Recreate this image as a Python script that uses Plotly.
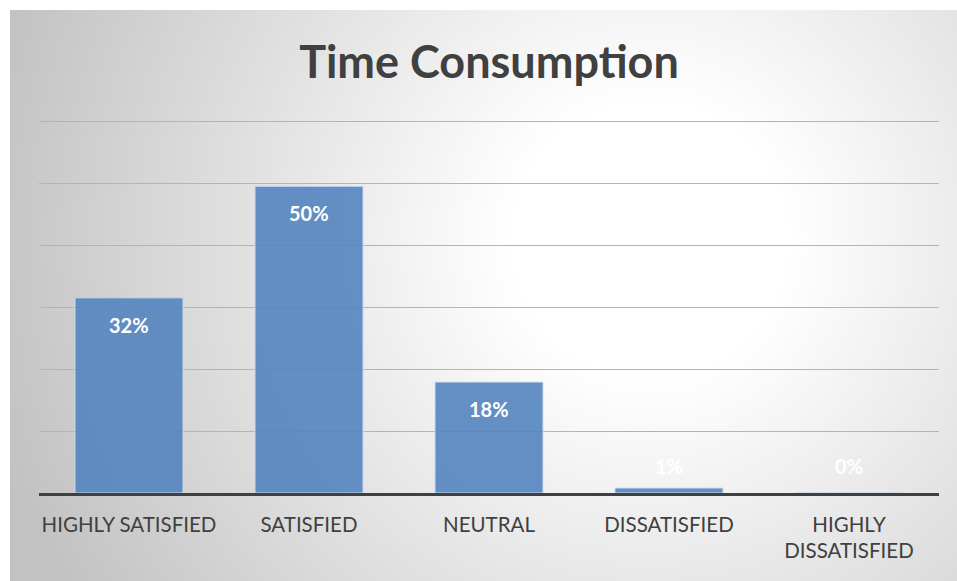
import plotly.graph_objects as go
import base64

categories = ["HIGHLY SATISFIED", "SATISFIED", "NEUTRAL", "DISSATISFIED", "HIGHLY<br>DISSATISFIED"]
values = [31.5, 49.5, 17.9, 0.8, 0]
labels = ["32%", "50%", "18%", "1%", "0%"]

W, H = 957, 581
ML, MR, MT, MB = 39, 18, 120, 88
PW, PH = W - ML - MR, H - MT - MB

svg = f'''<svg xmlns="http://www.w3.org/2000/svg" width="947" height="571" viewBox="0 0 947 571" preserveAspectRatio="none">
<defs><radialGradient id="g" gradientUnits="userSpaceOnUse" cx="640" cy="230" r="680">
<stop offset="0" stop-color="#ffffff"/><stop offset="0.2" stop-color="#ffffff"/><stop offset="1" stop-color="#c2c2c2"/>
</radialGradient></defs>
<rect x="0" y="0" width="947" height="571" fill="url(#g)"/></svg>'''
src = "data:image/svg+xml;base64," + base64.b64encode(svg.encode()).decode()

FONT = "Lato, Open Sans, sans-serif"

fig = go.Figure()
fig.add_trace(go.Bar(
    x=categories, y=values,
    marker=dict(color="#5485c0", opacity=0.9, line=dict(color="#c9d9ee", width=1)),
    width=0.6, hoverinfo="skip",
))

for c, v, t in zip(categories, values, labels):
    fig.add_annotation(x=c, y=max(v, 8.7), yshift=-27, text=t, showarrow=False,
                       font=dict(family=FONT, size=20, color="white", weight="bold"),
                       xref="x", yref="y", yanchor="middle")

fig.add_layout_image(dict(
    source=src, xref="paper", yref="paper",
    x=(10 - ML) / PW, y=1 + (MT - 10) / PH,
    sizex=(W - 10) / PW, sizey=(H - 10) / PH,
    sizing="stretch", layer="below", xanchor="left", yanchor="top",
))

fig.update_layout(
    width=W, height=H,
    margin=dict(l=ML, r=MR, t=MT, b=MB),
    paper_bgcolor="white", plot_bgcolor="rgba(0,0,0,0)",
    showlegend=False,
    title=dict(text="<b>Time Consumption</b>", x=0.5, xref="paper", xanchor="center",
               y=1 - 62 / H, yanchor="middle",
               font=dict(family=FONT, size=45, color="#404040")),
    bargap=0.4,
)
fig.update_xaxes(showline=True, linecolor="#404040", linewidth=3, ticks="", showgrid=False,
                 tickfont=dict(family=FONT, size=20.5, color="#404040"),
                 ticklabelstandoff=11)
fig.update_yaxes(range=[0, 60.2], dtick=10, showgrid=True, gridcolor="#b4b4b4", gridwidth=1,
                 showticklabels=False, zeroline=False, showline=False, ticks="")

fig.write_html("out.html")
